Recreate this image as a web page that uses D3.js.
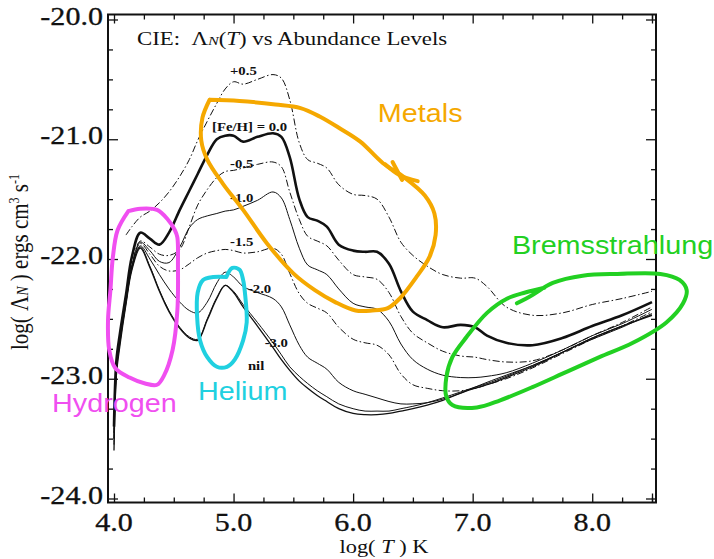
<!DOCTYPE html>
<html><head><meta charset="utf-8">
<script src="https://cdn.jsdelivr.net/npm/d3@7"></script>
<style>
html,body{margin:0;padding:0;background:#fff;}
svg{display:block;}
</style></head><body>
<svg id="c" width="714" height="559"></svg>
<script>
// ---------- data ----------
const logT = [4.00,4.02,4.05,4.10,4.15,4.22,4.30,4.38,4.46,4.55,4.63,4.70,4.78,4.86,4.93,5.00,5.08,5.20,5.33,5.40,5.47,5.55,5.62,5.70,5.78,5.88,6.00,6.10,6.20,6.30,6.40,6.50,6.62,6.75,6.90,7.02,7.12,7.28,7.50,7.75,8.00,8.25,8.50];

const feP05 = [null,null,null,-21.80,-21.73,-21.65,-21.60,-21.53,-21.44,-21.31,-21.17,-21.01,-20.85,-20.70,-20.58,-20.52,-20.54,-20.50,-20.46,-20.49,-20.67,-21.03,-21.17,-21.20,-21.24,-21.38,-21.46,-21.47,-21.50,-21.65,-21.86,-21.97,-22.06,-22.13,-22.16,-22.16,-22.23,-22.40,-22.47,-22.45,-22.38,-22.33,-22.27];
const fe000 = [-23.40,-22.85,-22.62,-22.30,-21.98,-21.78,-21.83,-21.88,-21.78,-21.59,-21.43,-21.29,-21.13,-21.00,-20.97,-20.97,-21.02,-20.98,-20.95,-20.98,-21.15,-21.50,-21.65,-21.68,-21.73,-21.88,-21.93,-21.94,-21.94,-22.04,-22.27,-22.44,-22.51,-22.57,-22.55,-22.57,-22.64,-22.70,-22.72,-22.66,-22.56,-22.47,-22.36];
const feM05 = [-23.45,-22.90,-22.65,-22.33,-22.05,-21.85,-21.90,-21.96,-21.97,-21.92,-21.73,-21.55,-21.42,-21.32,-21.27,-21.26,-21.24,-21.21,-21.19,-21.23,-21.44,-21.67,-21.81,-21.85,-21.89,-22.01,-22.13,-22.15,-22.17,-22.28,-22.48,-22.62,-22.70,-22.77,-22.81,-22.82,-22.84,-22.86,-22.85,-22.76,-22.64,-22.53,-22.40];
const feM10 = [-23.45,-22.90,-22.66,-22.34,-22.06,-21.86,-21.93,-22.02,-22.03,-21.90,-21.74,-21.67,-21.64,-21.62,-21.60,-21.59,-21.56,-21.51,-21.44,-21.49,-21.67,-21.91,-22.05,-22.09,-22.13,-22.25,-22.37,-22.40,-22.42,-22.52,-22.71,-22.84,-22.92,-22.97,-22.99,-22.99,-22.98,-22.95,-22.87,-22.76,-22.64,-22.54,-22.42];
const feM15 = [-23.50,-22.92,-22.67,-22.35,-22.06,-21.87,-21.96,-22.06,-22.10,-22.09,-22.04,-21.99,-21.95,-21.93,-21.92,-21.93,-21.95,-21.94,-21.91,-21.96,-22.12,-22.29,-22.37,-22.41,-22.45,-22.57,-22.67,-22.70,-22.72,-22.80,-22.96,-23.05,-23.08,-23.10,-23.10,-23.08,-23.05,-23.00,-22.91,-22.79,-22.67,-22.56,-22.44];
const feM20 = [-23.50,-22.93,-22.68,-22.36,-22.07,-21.89,-22.00,-22.13,-22.25,-22.36,-22.43,-22.45,-22.36,-22.20,-22.11,-22.15,-22.23,-22.28,-22.33,-22.40,-22.55,-22.72,-22.82,-22.87,-22.92,-23.03,-23.10,-23.13,-23.16,-23.19,-23.21,-23.21,-23.20,-23.17,-23.12,-23.07,-23.03,-22.97,-22.89,-22.78,-22.67,-22.57,-22.455];
const feM30 = [-23.55,-22.95,-22.70,-22.37,-22.08,-21.90,-22.06,-22.26,-22.43,-22.57,-22.65,-22.67,-22.50,-22.32,-22.22,-22.27,-22.38,-22.53,-22.70,-22.80,-22.90,-22.98,-23.04,-23.10,-23.15,-23.21,-23.25,-23.27,-23.27,-23.27,-23.25,-23.23,-23.20,-23.16,-23.11,-23.07,-23.04,-22.98,-22.89,-22.78,-22.66,-22.56,-22.465];
const feNil = [-23.60,-22.97,-22.72,-22.38,-22.09,-21.91,-22.07,-22.27,-22.44,-22.58,-22.66,-22.68,-22.51,-22.33,-22.22,-22.28,-22.40,-22.56,-22.74,-22.84,-22.93,-23.02,-23.08,-23.14,-23.19,-23.25,-23.29,-23.30,-23.30,-23.29,-23.27,-23.25,-23.22,-23.18,-23.12,-23.08,-23.05,-22.99,-22.90,-22.78,-22.66,-22.56,-22.47];

const seriesKeys = ["+0.5","0.0","-0.5","-1.0","-1.5","-2.0","-3.0","nil"];
const seriesValues = [feP05, fe000, feM05, feM10, feM15, feM20, feM30, feNil];

// curve labels: text, logT, logL (anchor: start, baseline)
const labelText = ["+0.5","[Fe/H] = 0.0","-0.5","-1.0","-1.5","-2.0","-3.0","nil"];
const labelT    = [4.97, 4.82, 4.97, 4.97, 4.97, 5.12, 5.26, 5.12];
const labelL    = [-20.463,-20.931,-21.240,-21.521,-21.889,-22.284,-22.732,-22.927];

const xMajor = [4,5,6,7,8];
const yMajor = [-24,-23,-22,-21,-20];

// hand-drawn annotation outlines (logT, logL)
const metalsLoop = [[4.80,-20.67],[5.05,-20.68],[5.35,-20.71],[5.56,-20.74],[5.72,-20.81],[5.89,-20.91],[6.06,-21.02],[6.25,-21.20],[6.43,-21.32],[6.60,-21.47],[6.68,-21.62],[6.69,-21.80],[6.64,-21.98],[6.53,-22.15],[6.39,-22.33],[6.29,-22.41],[6.16,-22.43],[6.02,-22.43],[5.85,-22.36],[5.68,-22.26],[5.50,-22.12],[5.28,-21.87],[5.08,-21.59],[4.91,-21.37],[4.78,-21.17],[4.73,-21.01],[4.74,-20.82],[4.80,-20.67]];
const metalsMark = [[6.27,-21.21],[6.39,-21.30],[6.54,-21.35]];
const metalsMark2 = [[6.33,-21.19],[6.41,-21.34]];
const hydrogenLoop = [[4.12,-21.60],[4.22,-21.58],[4.36,-21.59],[4.45,-21.67],[4.51,-21.76],[4.53,-21.82],[4.535,-22.05],[4.53,-22.43],[4.49,-22.76],[4.42,-22.97],[4.36,-23.05],[4.26,-23.04],[4.13,-22.99],[4.01,-22.91],[3.96,-22.76],[3.95,-22.51],[3.97,-22.26],[3.99,-21.99],[4.03,-21.76],[4.12,-21.60]];
const heliumLoop = [[4.94,-22.15],[4.99,-22.075],[5.05,-22.09],[5.08,-22.175],[5.095,-22.28],[5.11,-22.53],[5.08,-22.68],[5.01,-22.84],[4.945,-22.90],[4.86,-22.90],[4.78,-22.82],[4.72,-22.68],[4.695,-22.48],[4.70,-22.28],[4.745,-22.175],[4.83,-22.15],[4.94,-22.15]];
const bremsLoop = [[7.37,-22.37],[7.50,-22.30],[7.67,-22.20],[7.92,-22.14],[8.21,-22.125],[8.57,-22.125],[8.73,-22.175],[8.79,-22.26],[8.76,-22.37],[8.62,-22.53],[8.34,-22.70],[8.06,-22.82],[7.79,-22.94],[7.50,-23.07],[7.23,-23.18],[7.035,-23.24],[6.83,-23.22],[6.78,-23.15],[6.78,-22.985],[6.83,-22.82],[6.95,-22.65],[7.12,-22.45],[7.29,-22.33],[7.44,-22.28],[7.60,-22.24]];

const annoText = ["Metals","Bremsstrahlung","Hydrogen","Helium"];
const annoT = [6.207, 7.328, 3.482, 4.702];
const annoL = [-20.856, -21.958, -23.278, -23.178];

// ---------- styles ----------
const COL = {metals:"#f5a800", brems:"#22d022", hydrogen:"#f04ff0", helium:"#20d0e0"};
const style = {
  "+0.5":{w:1.0, dash:"7,2.5,1.5,2.5"},
  "0.0": {w:2.6, dash:null},
  "-0.5":{w:1.0, dash:"7,2.5,1.5,2.5"},
  "-1.0":{w:1.0, dash:null},
  "-1.5":{w:1.0, dash:"7,2.5,1.5,2.5"},
  "-2.0":{w:1.0, dash:null},
  "-3.0":{w:1.0, dash:null},
  "nil": {w:1.3, dash:null}
};
const SX = 1.18; // horizontal stretch of the scanned text
const SERIF = "'Liberation Serif','Times New Roman',Times,serif";
const SANS = "'Liberation Sans',Arial,Helvetica,sans-serif";

// ---------- scales ----------
const svg = d3.select("#c");
const x = d3.scaleLinear().domain([4, 8.5]).range([114, 652]);
const y = d3.scaleLinear().domain([-24, -20]).range([498.5, 19.5]);
const FL = 108, FR = 656, FT = 14.5, FB = 502.5;

// frame
svg.append("rect").attr("x",FL).attr("y",FT).attr("width",FR-FL).attr("height",FB-FT)
  .attr("fill","none").attr("stroke","#111").attr("stroke-width",2);

// ticks
const xMinor = d3.range(4, 8.5001, 0.25).filter(v => Math.abs(v - Math.round(v)) > 1e-6);
const yMinor = d3.range(-24, -19.999, 0.25).filter(v => Math.abs(v - Math.round(v)) > 1e-6);
const xMajTicks = xMajor.concat([8.5]);
function addAxis(gen, tr, vals, size){
  const g = svg.append("g").attr("transform", tr)
    .call(gen.tickValues(vals).tickSize(-size).tickFormat(""));
  g.select(".domain").remove();
  g.selectAll("line").attr("stroke","#111").attr("stroke-width",1.3);
}
addAxis(d3.axisBottom(x), `translate(0,${FB})`, xMinor, 5);
addAxis(d3.axisBottom(x), `translate(0,${FB})`, xMajTicks, 9);
addAxis(d3.axisTop(x), `translate(0,${FT})`, xMinor, 5);
addAxis(d3.axisTop(x), `translate(0,${FT})`, xMajTicks, 9);
addAxis(d3.axisLeft(y), `translate(${FL},0)`, yMinor, 5);
addAxis(d3.axisLeft(y), `translate(${FL},0)`, yMajor, 10);
addAxis(d3.axisRight(y), `translate(${FR},0)`, yMinor, 5);
addAxis(d3.axisRight(y), `translate(${FR},0)`, yMajor, 10);

// tick labels
svg.append("g").selectAll("text").data(xMajor).join("text")
  .attr("transform", d => `translate(${x(d)},531) scale(${SX},1)`)
  .attr("text-anchor","middle").attr("font-family",SERIF).attr("font-size",25.5)
  .attr("fill","#111").attr("stroke","#111").attr("stroke-width",0.3).text(d => d.toFixed(1));
svg.append("g").selectAll("text").data(yMajor).join("text")
  .attr("transform", d => `translate(103,${y(d)+5}) scale(${SX},1)`)
  .attr("text-anchor","end").attr("font-family",SERIF).attr("font-size",25.5)
  .attr("fill","#111").attr("stroke","#111").attr("stroke-width",0.3).text(d => d.toFixed(1));

// axis titles
const xt = svg.append("text").attr("transform",`translate(384,553) scale(${SX},1)`)
  .attr("text-anchor","middle").attr("font-family",SERIF).attr("font-size",19).attr("fill","#111");
xt.append("tspan").text("log( ");
xt.append("tspan").attr("font-style","italic").text("T");
xt.append("tspan").text(" ) K");

const yt = svg.append("text").attr("transform",`translate(28,262) rotate(-90) scale(1,${SX})`)
  .attr("text-anchor","middle").attr("font-family",SERIF).attr("font-size",21).attr("fill","#111");
yt.append("tspan").text("log( Λ");
yt.append("tspan").attr("font-style","italic").attr("font-size",14).text("N");
yt.append("tspan").text(" ) ergs cm");
yt.append("tspan").attr("font-size",12).attr("dy",-8).text("3");
yt.append("tspan").attr("dy",8).text(" s");
yt.append("tspan").attr("font-size",12).attr("dy",-8).text("-1");

// title
const tt = svg.append("text").attr("transform",`translate(137,45) scale(1.2,1)`)
  .attr("font-family",SERIF).attr("font-size",19).attr("fill","#111");
tt.append("tspan").text("CIE:\u00a0\u00a0Λ");
tt.append("tspan").attr("font-style","italic").attr("font-size",13.5).text("N");
tt.append("tspan").text("(");
tt.append("tspan").attr("font-style","italic").text("T");
tt.append("tspan").text(") vs Abundance Levels");

// curves
const line = d3.line().defined(d => d[1] != null)
  .x(d => x(d[0])).y(d => y(d[1])).curve(d3.curveCatmullRom.alpha(0.5));
const curves = svg.append("g");
seriesKeys.forEach((k, i) => {
  const pts = logT.map((t, j) => [t, seriesValues[i][j]]);
  const s = style[k];
  curves.append("path").datum(pts).attr("d", line)
    .attr("fill","none").attr("stroke","#111").attr("stroke-width", s.w)
    .attr("stroke-dasharray", s.dash).attr("stroke-linejoin","round");
});

// curve labels
svg.append("g").selectAll("text").data(labelText).join("text")
  .attr("transform", (d,i) => `translate(${x(labelT[i])},${y(labelL[i])}) scale(${SX},1)`)
  .attr("font-family",SERIF).attr("font-size",12.5).attr("font-weight","bold").attr("fill","#111")
  .text(d => d);

// annotation loops
const loopLine = d3.line().x(d => x(d[0])).y(d => y(d[1])).curve(d3.curveCatmullRom.alpha(0.5));
const loops = [
  [metalsLoop, COL.metals],[metalsMark, COL.metals],[metalsMark2, COL.metals],
  [hydrogenLoop, COL.hydrogen],[heliumLoop, COL.helium],[bremsLoop, COL.brems]
];
svg.append("g").selectAll("path").data(loops).join("path")
  .attr("d", d => loopLine(d[0])).attr("fill","none").attr("stroke", d => d[1])
  .attr("stroke-width",4).attr("stroke-linecap","round").attr("stroke-linejoin","round");

// annotation texts
const annoCol = [COL.metals, COL.brems, COL.hydrogen, COL.helium];
svg.append("g").selectAll("text").data(annoText).join("text")
  .attr("transform", (d,i) => `translate(${x(annoT[i])},${y(annoL[i])}) scale(1.15,1)`)
  .attr("font-family",SANS).attr("font-size",25).attr("fill",(d,i) => annoCol[i])
  .text(d => d);
</script>
</body></html>
